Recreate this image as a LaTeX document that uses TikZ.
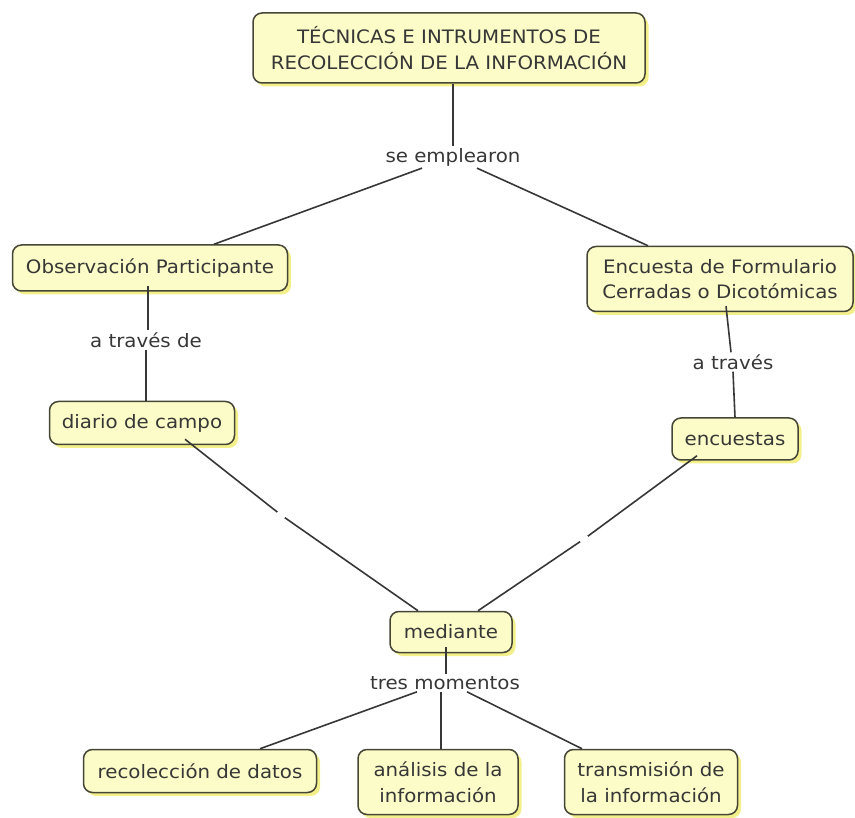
\documentclass[tikz,border=0pt]{standalone}
\usepackage{fontspec}
\setmainfont{DejaVu Sans}[FakeStretch=1.07]
\usetikzlibrary{shadows}
\definecolor{boxfill}{RGB}{252,252,200}
\definecolor{boxdraw}{RGB}{70,70,55}
\definecolor{glow}{RGB}{240,236,110}
\definecolor{txt}{RGB}{55,55,55}
\definecolor{linkc}{RGB}{55,55,55}
\tikzset{
  concept/.style={draw=boxdraw, line width=1.5pt, fill=boxfill, rounded corners=9pt,
    text=txt, align=center, inner sep=2pt,
    font={\fontsize{18.5}{25.5}\selectfont},
    drop shadow={fill=glow, opacity=0.8, shadow xshift=3.5pt, shadow yshift=-3.5pt}},
  linkphrase/.style={text=txt, inner sep=2pt, font={\fontsize{18.5}{25}\selectfont}},
  gapnode/.style={circle, inner sep=0pt, minimum size=9pt},
  conn/.style={draw=linkc, line width=1.6pt}
}
\begin{document}
\begin{tikzpicture}[x=1pt,y=-1pt]
\useasboundingbox (0,0) rectangle (855,818);

\node[concept, minimum width=392pt, minimum height=70pt] (top) at (449,48)
  {TÉCNICAS E INTRUMENTOS DE\\RECOLECCIÓN DE LA INFORMACIÓN};
\node[linkphrase] (se) at (453,157) {se emplearon};
\node[concept, minimum width=275pt, minimum height=46pt] (obs) at (150,268) {Observación Participante};
\node[concept, minimum width=266pt, minimum height=65pt] (enc) at (720,279) {Encuesta de Formulario\\Cerradas o Dicotómicas};
\node[linkphrase] (at1) at (146,340) {a través de};
\node[linkphrase] (at2) at (733,362) {a través};
\node[concept, minimum width=185pt, minimum height=43pt] (diario) at (142,423) {diario de campo};
\node[concept, minimum width=126pt, minimum height=42pt] (encu) at (735,439) {encuestas};
\node[gapnode] (g1) at (281,515) {};
\node[gapnode] (g2) at (584,539) {};
\node[concept, minimum width=122pt, minimum height=41pt] (med) at (451,632) {mediante};
\node[linkphrase] (tres) at (445,683) {tres momentos};
\node[concept, minimum width=233pt, minimum height=43pt] (recol) at (200,771) {recolección de datos};
\node[concept, minimum width=160pt, minimum height=65pt] (anal) at (438,782) {análisis de la\\información};
\node[concept, minimum width=173pt, minimum height=65pt] (trans) at (651,782) {transmisión de\\la información};

\draw[conn] ([xshift=4pt]top.south) -- (se.north);
\draw[conn] ([xshift=-31pt]se.south) -- ([xshift=64pt]obs.north);
\draw[conn] ([xshift=24pt]se.south) -- ([xshift=-72pt]enc.north);
\draw[conn] ([xshift=-2pt,yshift=6pt]obs.south) -- ([xshift=2pt]at1.north);
\draw[conn] (at1.south) -- ([xshift=4pt]diario.north);
\draw[conn] ([xshift=6pt,yshift=6pt]enc.south) -- ([xshift=-2pt]at2.north);
\draw[conn] (at2.south) -- (encu.north);
\draw[conn] ([xshift=43pt,yshift=6pt]diario.south) -- (g1) -- ([xshift=-33pt]med.north);
\draw[conn] ([xshift=-38pt,yshift=5pt]encu.south) -- (g2) -- ([xshift=27pt]med.north);
\draw[conn] ([xshift=-5pt,yshift=6pt]med.south) -- ([xshift=1pt]tres.north);
\draw[conn] ([xshift=-28pt]tres.south) -- ([xshift=60pt]recol.north);
\draw[conn] ([xshift=-4pt]tres.south) -- ([xshift=3pt]anal.north);
\draw[conn] ([xshift=22pt]tres.south) -- ([xshift=-69pt]trans.north);
\end{tikzpicture}
\end{document}
